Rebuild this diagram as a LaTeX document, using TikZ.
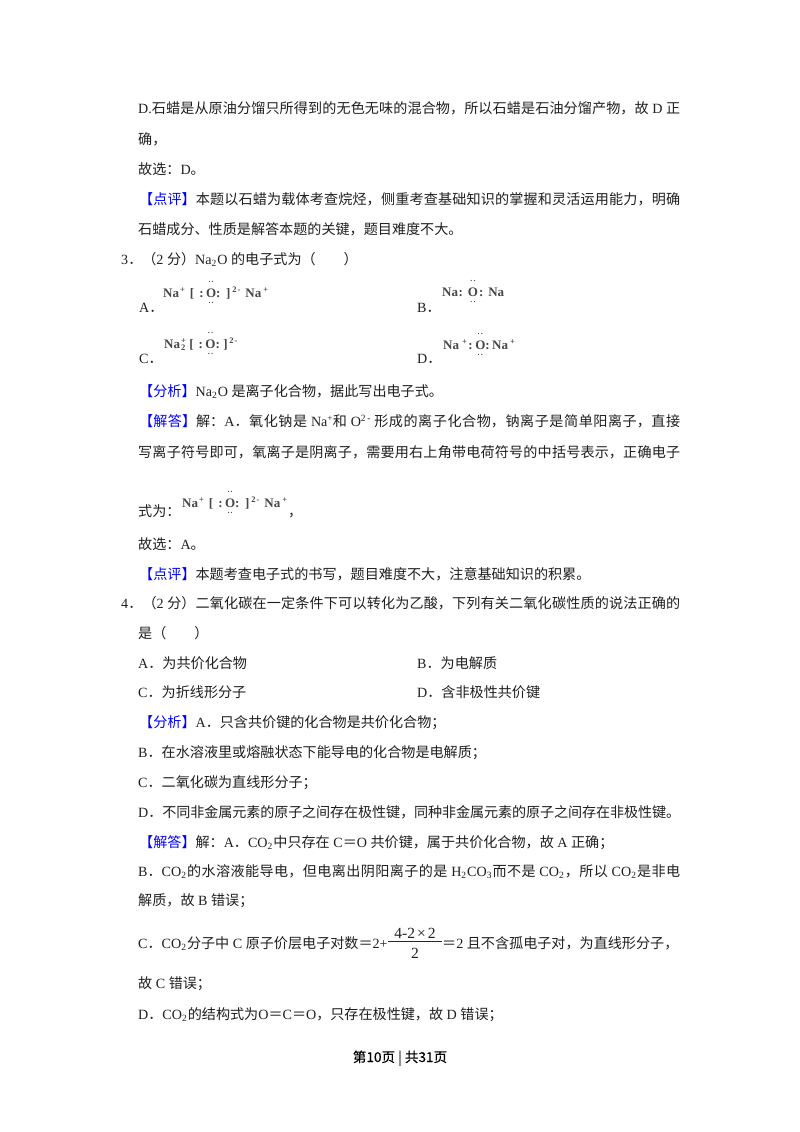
\documentclass[tikz,border=0pt]{standalone}
\usepackage{fontspec}
\setmainfont{Noto Sans CJK SC}
\newfontfamily\lat{Liberation Serif}
\XeTeXlinebreaklocale "zh"
\XeTeXlinebreakskip=0pt plus 3pt minus 0.8pt
\XeTeXlinebreakpenalty=10000
\newcommand\E[1]{{\lat #1}}
\newcommand\Sb[1]{\raisebox{-2.6pt}{\lat\fontsize{9.5}{9.5}\selectfont #1}\hspace{1pt}}
\newcommand\Sp[1]{\raisebox{5pt}{\lat\fontsize{9.5}{9.5}\selectfont #1}}
\newcommand\Sq[1]{\raisebox{4.5pt}{\fontsize{8.5}{8.5}\selectfont #1}}
\definecolor{bluehead}{RGB}{0,0,255}
\newcommand\Hd[1]{\textcolor{bluehead}{【#1】}}
\newcommand\Ds{\fontsize{8}{8}\selectfont.\hspace{1.2pt}.}
\newcommand\Ox{\setbox0\hbox{O}\rlap{\makebox[\wd0]{\raisebox{14.5pt}{\Ds}}}\rlap{\makebox[\wd0]{\raisebox{-6.5pt}{\Ds}}}O}
\newcommand\FA{Na\hspace{1pt}\Sq{+}\hspace{5pt}[\hspace{5pt}:\hspace{2.5pt}\Ox:\hspace{5.5pt}]\hspace{2pt}\Sq{2}\hspace{1pt}\Sq{-}\hspace{5pt}Na\hspace{2pt}\Sq{+}}
\tikzset{
  txt/.style={anchor=base west,inner sep=0pt,font=\fontsize{14.1}{16}\selectfont,text=black!88},
  frm/.style={anchor=base west,inner sep=0pt,font=\lat\bfseries\fontsize{13}{15}\selectfont,text=black!72},
  num/.style={anchor=base,inner sep=0pt,font=\lat\fontsize{15.5}{18}\selectfont,text=black!88},
  foot/.style={anchor=base,inner sep=0pt,font=\addfontfeature{FakeBold=0.2}\fontsize{13.6}{16}\selectfont,text=black}
}
\newcommand\TL[3]{\node[txt] (#1) at (#2) {#3};}
\newcommand\JL[4]{\node[txt] (#1) at (#2) {\parbox[b]{#3pt}{\parfillskip=0pt\relax\tolerance=10000\hbadness=10000\hfuzz=5pt #4}};}
\begin{document}
\begin{tikzpicture}[x=1pt,y=-1pt]
\useasboundingbox (0,0) rectangle (800,1132);
\fill[white] (0,0) rectangle (800,1132);
\JL{l01}{138,113}{542}{\E{D.}石蜡是从原油分馏只所得到的无色无味的混合物，所以石蜡是石油分馏产物，故\E{ D }正}
\TL{l02}{138,144}{确，}
\TL{l03}{138,174}{故选：\E{D}。}
\JL{l04}{139,204}{541}{\Hd{点评}本题以石蜡为载体考查烷烃，侧重考查基础知识的掌握和灵活运用能力，明确}
\TL{l05}{138,234}{石蜡成分、性质是解答本题的关键，题目难度不大。}
\TL{l06}{121,264}{\E{3}．（\E{2 }分）\E{Na}\Sb{2}\E{O }的电子式为（\hspace{28pt}）}
\TL{l07}{139,312}{\E{A}．}
\node[frm] (fa) at (163,297) {\FA};
\TL{l08}{417,312}{\E{B}．}
\node[frm] (fb) at (442,296) {Na\hspace{0.5pt}:\hspace{5pt}\Ox\hspace{1pt}:\hspace{5pt}Na};
\TL{l09}{139,363}{\E{C}．}
\node[frm] (fc) at (164,348) {Na\hspace{1pt}\rlap{\Sq{+}}\raisebox{-2.5pt}{\fontsize{8.5}{8.5}\selectfont 2}\hspace{4pt}[\hspace{5pt}:\hspace{2.5pt}\Ox:\hspace{3.5pt}]\hspace{1.5pt}\Sq{2}\hspace{1pt}\Sq{-}};
\TL{l10}{417,363}{\E{D}．}
\node[frm] (fd) at (443,349) {Na\hspace{3pt}\Sq{+}\hspace{1.5pt}:\hspace{2.5pt}\Ox:\hspace{2.5pt}Na\hspace{2pt}\Sq{+}};
\TL{l11}{139,396}{\Hd{分析}\E{Na}\Sb{2}\E{O }是离子化合物，据此写出电子式。}
\JL{l12}{139,426}{541}{\Hd{解答}解：\E{A}．氧化钠是\E{ Na}\Sp{+}和\E{ O}\Sp{2\,-}\E{ }形成的离子化合物，钠离子是简单阳离子，直接}
\JL{l13}{138,457}{542}{写离子符号即可，氧离子是阴离子，需要用右上角带电荷符号的中括号表示，正确电子}
\TL{l14}{138,516}{式为：}
\node[frm] (fe) at (182,507) {\FA};
\TL{l15}{288,516}{，}
\TL{l16}{138,549}{故选：\E{A}。}
\TL{l17}{139,579}{\Hd{点评}本题考查电子式的书写，题目难度不大，注意基础知识的积累。}
\JL{l18}{121,608}{559}{\E{4}．（\E{2 }分）二氧化碳在一定条件下可以转化为乙酸，下列有关二氧化碳性质的说法正确的}
\TL{l19}{138,638}{是（\hspace{28pt}）}
\TL{l20}{138,668}{\E{A}．为共价化合物}
\TL{l21}{417,668}{\E{B}．为电解质}
\TL{l22}{138,697}{\E{C}．为折线形分子}
\TL{l23}{417,697}{\E{D}．含非极性共价键}
\TL{l24}{139,727}{\Hd{分析}\E{A}．只含共价键的化合物是共价化合物；}
\TL{l25}{138,757}{\E{B}．在水溶液里或熔融状态下能导电的化合物是电解质；}
\TL{l26}{138,787}{\E{C}．二氧化碳为直线形分子；}
\JL{l27}{138,817}{542}{\E{D}．不同非金属元素的原子之间存在极性键，同种非金属元素的原子之间存在非极性键。}
\TL{l28}{139,847}{\Hd{解答}解：\E{A}．\E{CO}\Sb{2}中只存在\E{ C}＝\E{O }共价键，属于共价化合物，故\E{ A }正确；}
\JL{l29}{138,876}{542}{\E{B}．\E{CO}\Sb{2}的水溶液能导电，但电离出阴阳离子的是\E{ H}\Sb{2}\E{CO}\Sb{3}而不是\E{ CO}\Sb{2}，所以\E{ CO}\Sb{2}是非电}
\TL{l30}{138,905}{解质，故\E{ B }错误；}
\TL{l31}{138,948}{\E{C}．\E{CO}\Sb{2}分子中\E{ C }原子价层电子对数＝\E{2+}}
\node[num] (fn) at (415,938) {4-2\hspace{2pt}×\hspace{2pt}2};
\node[num] (fd2) at (415,958) {2};
\draw[line width=0.8pt,black!85] (388,941) -- (442,941);
\TL{l32}{442,948}{＝\E{2 }且不含孤电子对，为直线形分子，}
\TL{l33}{138,988}{故\E{ C }错误；}
\TL{l34}{138,1019}{\E{D}．\E{CO}\Sb{2}的结构式为\E{O}＝\E{C}＝\E{O}，只存在极性键，故\E{ D }错误；}
\node[foot] (pg) at (400,1062) {第10页 | 共31页};
\end{tikzpicture}
\end{document}
